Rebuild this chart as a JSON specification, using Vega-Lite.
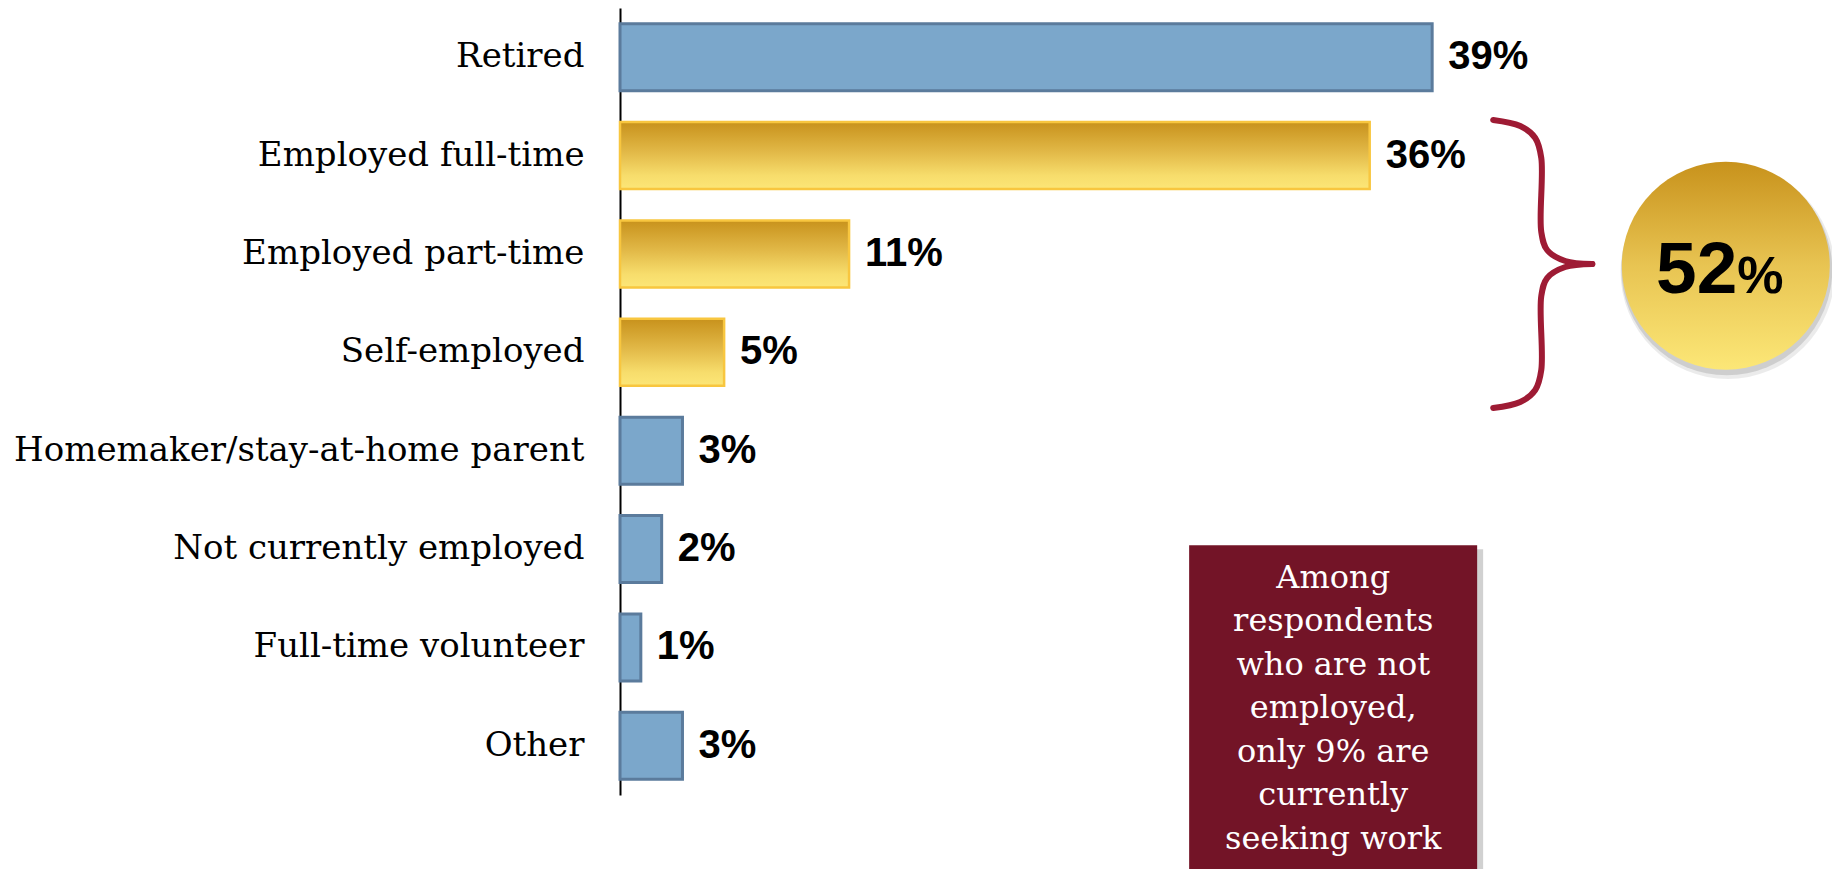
{
  "$schema": "https://vega.github.io/schema/vega-lite/v6.json",
  "width": 1212,
  "height": 787,
  "autosize": "none",
  "padding": {"left": 620, "top": 8, "right": 0, "bottom": 74},
  "background": "white",
  "config": {"view": {"stroke": null}},
  "datasets": {
    "bars": [
      {"cat": "Retired", "value": 39, "label": "39%", "group": "other"},
      {"cat": "Employed full-time", "value": 36, "label": "36%", "group": "employed"},
      {"cat": "Employed part-time", "value": 11, "label": "11%", "group": "employed"},
      {"cat": "Self-employed", "value": 5, "label": "5%", "group": "employed"},
      {"cat": "Homemaker/stay-at-home parent", "value": 3, "label": "3%", "group": "other"},
      {"cat": "Not currently employed", "value": 2, "label": "2%", "group": "other"},
      {"cat": "Full-time volunteer", "value": 1, "label": "1%", "group": "other"},
      {"cat": "Other", "value": 3, "label": "3%", "group": "other"}
    ],
    "brace": [
      {"bx": 41.93, "by": 1.138, "half": "top", "ord": 1},
      {"bx": 43.23, "by": 1.200, "half": "top", "ord": 2},
      {"bx": 43.95, "by": 1.321, "half": "top", "ord": 3},
      {"bx": 44.24, "by": 1.525, "half": "top", "ord": 4},
      {"bx": 44.24, "by": 2.277, "half": "top", "ord": 5},
      {"bx": 44.52, "by": 2.460, "half": "top", "ord": 6},
      {"bx": 45.39, "by": 2.572, "half": "top", "ord": 7},
      {"bx": 46.69, "by": 2.602, "half": "top", "ord": 8},
      {"bx": 46.69, "by": 2.602, "half": "bottom", "ord": 1},
      {"bx": 45.39, "by": 2.633, "half": "bottom", "ord": 2},
      {"bx": 44.52, "by": 2.745, "half": "bottom", "ord": 3},
      {"bx": 44.24, "by": 2.928, "half": "bottom", "ord": 4},
      {"bx": 44.24, "by": 3.680, "half": "bottom", "ord": 5},
      {"bx": 43.95, "by": 3.883, "half": "bottom", "ord": 6},
      {"bx": 43.23, "by": 4.005, "half": "bottom", "ord": 7},
      {"bx": 41.93, "by": 4.066, "half": "bottom", "ord": 8}
    ],
    "circle": [{"cx": 53.1, "cy": 2.62, "tx": 53.65, "ty": 2.897}],
    "box": [{"x1": 27.33, "x2": 41.16, "y1": 5.46, "y2": 8.8, "tx": 34.25, "ty": 5.794,
      "t": "Among\nrespondents\nwho are not\nemployed,\nonly 9% are\ncurrently\nseeking work"}]
  },
  "layer": [
    {
      "data": {"name": "bars"},
      "encoding": {
        "y": {
          "field": "cat", "type": "nominal",
          "scale": {
            "domain": ["Retired", "Employed full-time", "Employed part-time", "Self-employed", "Homemaker/stay-at-home parent", "Not currently employed", "Full-time volunteer", "Other"],
            "paddingInner": 0.32, "paddingOuter": 0.16
          },
          "axis": {
            "title": null, "ticks": false, "grid": false,
            "domain": true, "domainColor": "#000000", "domainWidth": 2,
            "labelFont": "DejaVu Serif", "labelFontSize": 34, "labelColor": "#000000",
            "labelPadding": 36, "labelLimit": 1000
          }
        },
        "x": {"field": "value", "type": "quantitative", "scale": {"domain": [0, 58.2], "nice": false, "zero": true}, "axis": null}
      },
      "layer": [
        {
          "transform": [{"filter": "datum.group === 'other'"}],
          "mark": {"type": "bar", "fill": "#7BA7CB", "stroke": "#5B7B9C", "strokeWidth": 3}
        },
        {
          "transform": [{"filter": "datum.group === 'employed'"}],
          "mark": {
            "type": "bar", "stroke": "#F8C63F", "strokeWidth": 2.5,
            "fill": {"gradient": "linear", "x1": 0, "y1": 0, "x2": 0, "y2": 1,
              "stops": [
                {"offset": 0, "color": "#C8921C"},
                {"offset": 0.45, "color": "#E2B948"},
                {"offset": 0.8, "color": "#F7DD6C"},
                {"offset": 1, "color": "#FCE677"}
              ]}
          }
        },
        {
          "mark": {"type": "text", "align": "left", "baseline": "middle", "dx": 16,
            "font": "Liberation Sans", "fontWeight": "bold", "fontSize": 40, "color": "#000000"},
          "encoding": {"text": {"field": "label"}}
        }
      ]
    },
    {
      "layer": [
        {
          "data": {"name": "brace"},
          "mark": {"type": "line", "interpolate": "catmull-rom", "color": "#9E1B34", "strokeWidth": 6, "strokeCap": "round"},
          "encoding": {
            "x": {"field": "bx", "type": "quantitative"},
            "y": {"field": "by", "type": "quantitative", "scale": {"domain": [0, 8], "reverse": true, "nice": false, "zero": false}, "axis": null},
            "detail": {"field": "half"},
            "order": {"field": "ord"}
          }
        },
        {
          "data": {"name": "circle"},
          "encoding": {
            "x": {"field": "cx", "type": "quantitative"},
            "y": {"field": "cy", "type": "quantitative", "scale": {"domain": [0, 8], "reverse": true, "nice": false, "zero": false}, "axis": null}
          },
          "layer": [
            {"mark": {"type": "point", "shape": "circle", "filled": true, "size": 46000, "color": "#000000", "opacity": 0.08, "xOffset": 2, "yOffset": 6}},
            {"mark": {"type": "point", "shape": "circle", "filled": true, "size": 44500, "color": "#000000", "opacity": 0.12, "xOffset": 1, "yOffset": 4}},
            {"mark": {"type": "point", "shape": "circle", "filled": true, "size": 43264, "opacity": 1,
              "fill": {"gradient": "linear", "x1": 0, "y1": 0, "x2": 0, "y2": 1,
                "stops": [
                  {"offset": 0, "color": "#C8921C"},
                  {"offset": 0.5, "color": "#E8C452"},
                  {"offset": 1, "color": "#FCE777"}
                ]}}}
          ]
        },
        {
          "data": {"name": "circle"},
          "encoding": {
            "x": {"field": "tx", "type": "quantitative"},
            "y": {"field": "ty", "type": "quantitative", "scale": {"domain": [0, 8], "reverse": true, "nice": false, "zero": false}, "axis": null}
          },
          "layer": [
            {"mark": {"type": "text", "text": "52", "align": "right", "baseline": "alphabetic", "font": "Liberation Sans", "fontWeight": "bold", "fontSize": 73, "color": "#000000"}},
            {"mark": {"type": "text", "text": "%", "align": "left", "baseline": "alphabetic", "font": "Liberation Sans", "fontWeight": "bold", "fontSize": 52, "color": "#000000"}}
          ]
        },
        {
          "data": {"name": "box"},
          "layer": [
            {
              "mark": {"type": "rect", "color": "#000000", "opacity": 0.18, "xOffset": 6, "x2Offset": 6, "yOffset": 4, "y2Offset": 4},
              "encoding": {
                "x": {"field": "x1", "type": "quantitative"},
                "x2": {"field": "x2"},
                "y": {"field": "y1", "type": "quantitative", "scale": {"domain": [0, 8], "reverse": true, "nice": false, "zero": false}, "axis": null},
                "y2": {"field": "y2"}
              }
            },
            {
              "mark": {"type": "rect", "color": "#731427", "clip": false},
              "encoding": {
                "x": {"field": "x1", "type": "quantitative"},
                "x2": {"field": "x2"},
                "y": {"field": "y1", "type": "quantitative", "scale": {"domain": [0, 8], "reverse": true, "nice": false, "zero": false}, "axis": null},
                "y2": {"field": "y2"}
              }
            },
            {
              "mark": {"type": "text", "align": "center", "baseline": "middle", "lineBreak": "\n", "lineHeight": 43.5,
                "font": "DejaVu Serif", "fontSize": 32, "color": "#FFFFFF"},
              "encoding": {
                "x": {"field": "tx", "type": "quantitative"},
                "y": {"field": "ty", "type": "quantitative", "scale": {"domain": [0, 8], "reverse": true, "nice": false, "zero": false}, "axis": null},
                "text": {"field": "t"}
              }
            }
          ]
        }
      ]
    }
  ],
  "resolve": {"scale": {"y": "independent"}, "axis": {"y": "independent"}}
}
